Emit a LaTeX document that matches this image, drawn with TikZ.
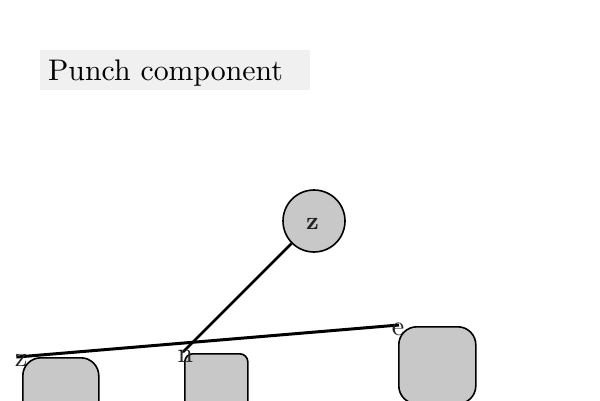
\documentclass[tikz,border=0pt]{standalone}
\usepackage{graphicx}
\begin{document}
\begin{tikzpicture}[x=1pt,y=-1pt,
  shapefill/.style={fill=boxgray,draw=black,line width=1.6pt},
  boxnode/.style={shapefill,anchor=north west,inner sep=0pt},
  lbl/.style={text=labelgray,inner sep=0pt},
  conn/.style={draw=black,line width=2.6pt}]
\definecolor{boxgray}{HTML}{C8C8C8}
\definecolor{titlegray}{HTML}{F0F0F0}
\definecolor{labelgray}{HTML}{222222}
\useasboundingbox (0,0) rectangle (600,400);
\clip (0,0) rectangle (600,400);
% title
\fill[titlegray] (40,50) rectangle (310,90);
\node[anchor=base west,inner sep=0pt,text=black] (title) at (48,80) {\scalebox{2.98}{Punch component}};
% circle
\node[shapefill,circle,minimum size=62pt,inner sep=0pt] (c) at (314,221) {};
\node[lbl] (cz) at (312.5,224) {\scalebox{2.5}{\bfseries z}};
% boxes
\node[boxnode,rounded corners=18pt,minimum width=76pt,minimum height=80pt] (b1) at (22,357) {};
\node[boxnode,rounded corners=8pt,minimum width=63pt,minimum height=80pt] (b2) at (184,353) {};
\node[boxnode,rounded corners=18pt,minimum width=77pt,minimum height=77pt] (b3) at (398,326) {};
% connector end points
\coordinate (pn) at (183,352);
\coordinate (pz) at (17,357);
\coordinate (pe) at (399,325);
\draw[conn] (c) -- (pn);
\draw[conn,line width=3pt] (pz) -- (pe);
% labels
\node[lbl] (lz) at (21,360.5) {\scalebox{2.8}{z}};
\node[lbl] (ln) at (185.5,356.5) {\scalebox{2.8}{n}};
\node[lbl] (le) at (398,329.5) {\scalebox{2.8}{e}};
\end{tikzpicture}
\end{document}
